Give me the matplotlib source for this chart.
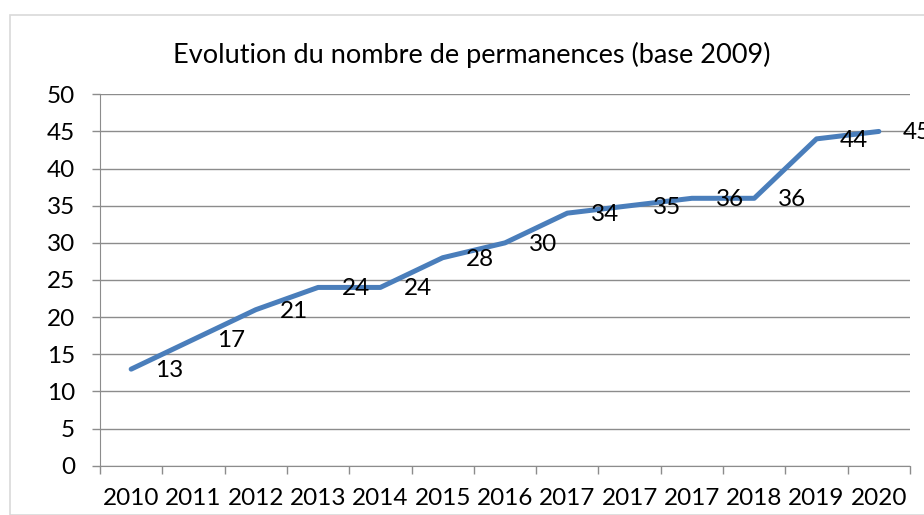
import numpy as np
import matplotlib.pyplot as plt
from matplotlib.patches import Rectangle

years = ['2010', '2011', '2012', '2013', '2014', '2015', '2016',
         '2017', '2017', '2017', '2018', '2019', '2020']
permanences = [13, 17, 21, 24, 24, 28, 30, 34, 35, 36, 36, 44, 45]

plt.rcParams['font.family'] = ['Lato', 'DejaVu Sans']

fig = plt.figure(figsize=(9.24, 5.15), dpi=100)
W, H = 924, 515

# light frame of the chart area
fig.patches.append(Rectangle((10 / W, 0), 1.2, 1 - 15 / H, transform=fig.transFigure,
                             fill=False, edgecolor='#d9d9d9', lw=1.2))

ax = fig.add_axes([100 / W, 1 - 465.7 / H, 810 / W, (465.7 - 94.3) / H])

x = np.arange(len(years))
ax.plot(x, permanences, color='#4a7ebb', lw=3.6, solid_joinstyle='round',
        solid_capstyle='round', zorder=3)

# labels to the right of each point, like the original ("45" runs off the edge there too)
for xi, v in zip(x, permanences):
    ax.annotate(str(v), (xi, v), xytext=(17, -1), textcoords='offset points',
                ha='left', va='center', fontsize=17.5, annotation_clip=False, zorder=4)

ax.set_xlim(-0.5, len(years) - 0.5)
ax.set_ylim(0, 50)
ax.set_yticks(np.arange(0, 51, 5))
ax.yaxis.grid(True, color='#8c8c8c', lw=1)
ax.set_axisbelow(True)

ax.set_xticks(x)
ax.set_xticklabels(years, fontsize=17.5)
ax.tick_params(axis='x', which='major', length=0, pad=16)
ax.set_xticks(np.arange(-0.5, len(years)), minor=True)
ax.tick_params(axis='x', which='minor', length=6, color='#8c8c8c', width=1)
ax.tick_params(axis='y', length=6, color='#8c8c8c', width=1, labelsize=17.5, pad=12)

for s in ['top', 'right']:
    ax.spines[s].set_visible(False)
for s in ['left', 'bottom']:
    ax.spines[s].set_color('#8c8c8c')

fig.text(472 / W, 1 - 55 / H, 'Evolution du nombre de permanences (base 2009)',
         ha='center', va='center', fontsize=19.5)

fig.savefig('out.png', dpi=100)
